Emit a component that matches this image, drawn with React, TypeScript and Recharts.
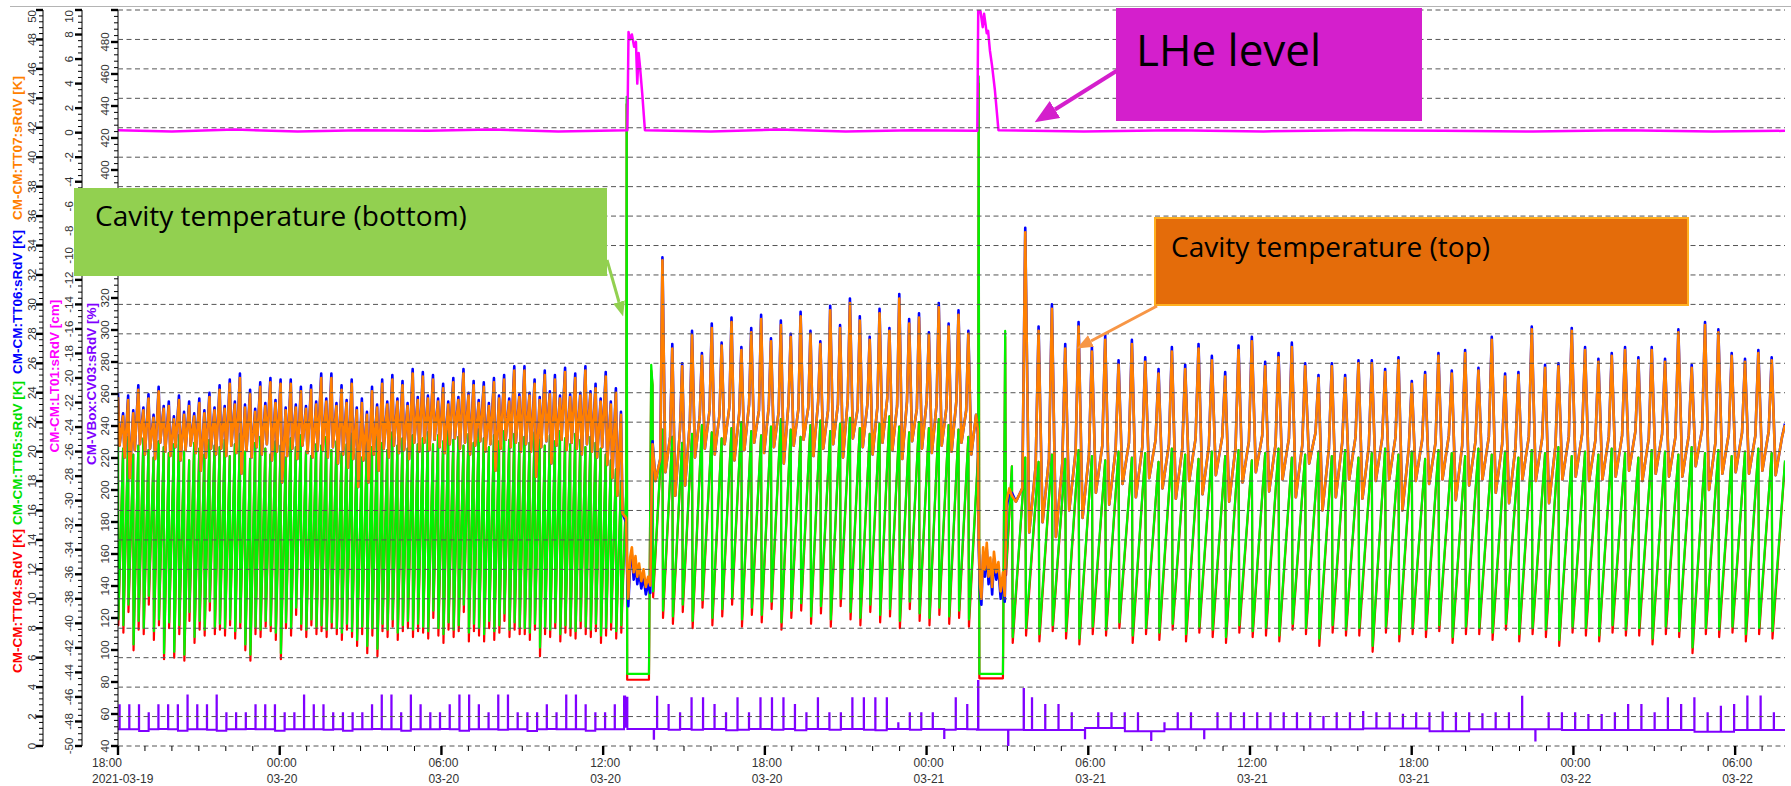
import { LineChart, Line, XAxis, YAxis, ReferenceLine } from 'recharts';

// cryomodule test run, 2021-03-19 18:00 -> 2021-03-22 ~08:00 (x in minutes from start)
const X_END = 3711;

// axis ticks
const kMajor = [0, 2, 4, 6, 8, 10, 12, 14, 16, 18, 20, 22, 24, 26, 28, 30, 32, 34, 36, 38, 40, 42, 44, 46, 48, 50];
const cmMajor = [-50, -48, -46, -44, -42, -40, -38, -36, -34, -32, -30, -28, -26, -24, -22, -20, -18, -16, -14, -12, -10, -8, -6, -4, -2, 0, 2, 4, 6, 8, 10];
const pctMajor = [40, 60, 80, 100, 120, 140, 160, 180, 200, 220, 240, 260, 280, 300, 320, 340, 360, 380, 400, 420, 440, 460, 480, 500];
const timeLabels = ['18:00', '00:00', '06:00', '12:00', '18:00', '00:00', '06:00', '12:00', '18:00', '00:00', '06:00'];
const dateLabels = ['2021-03-19', '03-20', '03-20', '03-20', '03-20', '03-21', '03-21', '03-21', '03-21', '03-22', '03-22'];

// ---- phase 1: before first LHe fill (0 .. 1131 min), 100 cooling cycles ----
const g1Hi = [
  20.6, 20.2, 21.0, 19.8, 20.4, 20.9, 20.1, 19.6, 20.7, 20.3, 19.9, 20.5, 21.1, 20.0, 19.4, 20.6, 20.2, 19.8, 20.8, 20.4,
  20.3, 20.8, 19.7, 20.5, 21.2, 20.0, 19.5, 20.6, 21.0, 20.2, 19.8, 20.7, 20.4, 19.6, 20.9, 20.3, 21.1, 20.0, 19.7, 20.5,
  20.4, 21.0, 20.1, 20.7, 19.9, 20.5, 21.2, 20.2, 19.6, 20.8, 20.3, 21.0, 20.6, 20.1, 21.3, 20.4, 20.9, 20.2, 21.1, 20.5,
  20.9, 21.3, 20.5, 21.1, 20.7, 21.4, 20.8, 21.0, 20.4, 21.2, 20.6, 21.5, 20.9, 20.3, 21.1, 20.7, 21.4, 20.8, 21.2, 20.6,
  21.0, 20.6, 21.3, 20.8, 20.4, 21.1, 20.7, 21.4, 20.9, 20.5, 21.2, 20.8, 20.3, 21.0, 20.6, 20.2, 19.8, 19.4, 18.8, 18.0,
];
const g1Lo = [
  8.6, 8.2, 9.6, 6.9, 8.5, 8.0, 10.2, 7.8, 8.6, 6.3, 8.4, 6.4, 8.2, 6.2, 9.1, 7.4, 8.5, 7.9, 9.8, 8.1,
  8.3, 8.0, 8.6, 7.8, 8.4, 6.9, 6.2, 8.1, 7.9, 8.5, 8.2, 7.7, 6.3, 8.4, 8.0, 9.4, 8.3, 7.9, 8.6, 8.1,
  8.2, 7.9, 8.4, 8.0, 7.7, 8.3, 7.8, 7.2, 8.1, 6.8, 8.0, 6.6, 8.3, 7.9, 8.6, 7.7, 8.2, 8.5, 7.9, 8.3,
  8.1, 7.8, 9.2, 8.0, 7.6, 8.4, 7.9, 8.2, 9.6, 7.7, 8.3, 8.0, 7.6, 8.5, 7.8, 8.2, 9.0, 7.9, 8.4, 8.1,
  8.0, 7.7, 8.3, 6.7, 8.1, 7.9, 8.4, 7.6, 8.2, 8.0, 7.8, 8.5, 8.1, 7.9, 8.3, 7.5, 8.0, 8.4, 7.8, 8.2,
];
const r1Lo = [
  8.2, 7.7, 9.1, 6.5, 7.9, 7.6, 9.6, 7.2, 8.2, 5.9, 8.0, 6.0, 7.6, 5.8, 8.5, 7.0, 7.9, 7.5, 9.2, 7.6,
  7.9, 7.5, 8.2, 7.3, 8.0, 6.5, 5.8, 7.6, 7.4, 8.1, 7.8, 7.2, 5.9, 8.0, 7.5, 8.9, 7.9, 7.4, 8.2, 7.6,
  7.8, 7.4, 8.0, 7.6, 7.2, 7.9, 7.4, 6.8, 7.6, 6.3, 7.5, 6.1, 7.8, 7.4, 8.1, 7.2, 7.8, 8.0, 7.4, 7.8,
  7.7, 7.3, 8.7, 7.5, 7.0, 7.9, 7.4, 7.8, 9.1, 7.1, 7.8, 7.5, 7.1, 8.0, 7.2, 7.7, 8.5, 7.4, 7.9, 7.6,
  7.6, 7.2, 7.9, 6.1, 7.6, 7.4, 8.0, 7.1, 7.7, 7.5, 7.3, 8.0, 7.6, 7.4, 7.8, 7.0, 7.5, 7.9, 7.3, 7.7,
];
const o1Hi = [
  23.7, 22.4, 23.5, 22.6, 24.2, 22.8, 23.6, 22.3, 24.1, 22.9, 23.1, 22.2, 23.5, 22.5, 23.1, 22.4, 23.3, 22.6, 23.7, 22.8,
  24.2, 22.9, 24.6, 23.2, 25.0, 23.0, 23.9, 22.7, 24.4, 23.1, 24.7, 23.3, 24.6, 22.8, 24.6, 23.0, 24.1, 22.9, 24.2, 23.2,
  25.0, 23.4, 25.0, 23.1, 24.2, 23.3, 24.6, 22.8, 23.3, 22.5, 24.1, 23.0, 24.6, 23.2, 24.9, 23.4, 24.5, 23.1, 25.3, 23.5,
  25.1, 23.6, 24.9, 23.4, 24.3, 23.2, 24.7, 23.5, 25.3, 23.8, 24.5, 23.3, 24.4, 23.1, 24.7, 23.6, 24.9, 23.4, 25.5, 23.7,
  25.5, 23.8, 24.6, 23.5, 25.2, 23.9, 24.9, 23.6, 25.4, 23.7, 25.0, 23.8, 25.5, 23.9, 24.3, 23.4, 25.1, 23.2, 24.0, 22.5,
];
const o1Lo = [
  20.4, 19.6, 18.2, 20.1, 20.5, 19.8, 20.2, 19.5, 20.6, 20.0, 19.7, 20.3, 19.4, 20.1, 20.4, 19.9, 18.7, 19.6, 20.2, 19.8,
  20.2, 19.7, 20.4, 19.9, 18.5, 20.1, 19.6, 20.3, 19.8, 20.5, 19.4, 20.0, 17.9, 19.7, 20.2, 19.5, 20.4, 19.9, 19.6, 20.1,
  20.1, 19.6, 20.3, 19.2, 19.8, 18.9, 19.5, 17.6, 19.4, 17.9, 19.8, 18.7, 20.2, 19.6, 20.4, 19.9, 20.1, 19.5, 20.6, 20.0,
  20.6, 20.1, 20.8, 20.3, 19.9, 20.5, 20.9, 20.2, 20.6, 19.8, 20.4, 20.7, 20.0, 20.5, 18.7, 20.2, 20.8, 20.3, 20.6, 20.0,
  20.5, 20.0, 18.3, 20.3, 20.7, 19.2, 20.4, 20.8, 20.1, 20.6, 20.2, 19.8, 20.5, 20.0, 19.6, 20.3, 19.1, 18.2, 17.0, 15.8,
];
const b1Hi = [
  24.0, 22.6, 23.8, 22.8, 24.5, 23.0, 23.9, 22.5, 24.4, 23.1, 23.4, 22.4, 23.8, 22.7, 23.4, 22.6, 23.6, 22.8, 24.0, 23.0,
  24.5, 23.1, 24.9, 23.4, 25.3, 23.2, 24.2, 22.9, 24.7, 23.3, 25.0, 23.5, 24.9, 23.0, 24.9, 23.2, 24.4, 23.1, 24.5, 23.4,
  25.3, 23.6, 25.3, 23.3, 24.5, 23.5, 24.9, 23.0, 23.6, 22.7, 24.4, 23.2, 24.9, 23.4, 25.2, 23.6, 24.8, 23.3, 25.6, 23.7,
  25.4, 23.8, 25.2, 23.6, 24.6, 23.4, 25.0, 23.7, 25.6, 24.0, 24.8, 23.5, 24.7, 23.3, 25.0, 23.8, 25.2, 23.6, 25.8, 23.9,
  25.8, 24.0, 24.9, 23.7, 25.5, 24.1, 25.2, 23.8, 25.7, 23.9, 25.3, 24.0, 25.8, 24.1, 24.6, 23.6, 25.4, 23.4, 24.3, 22.7,
];

// ---- phase 2: between the fills (1190 .. 1915 min), 33 cycles ----
const g2Hi = [24.5, 21.5, 21.0, 20.6, 21.2, 21.8, 21.3, 20.9, 21.6, 22.0, 21.4, 21.1, 21.7, 22.2, 21.5, 21.0, 21.8, 22.1, 21.4, 21.9, 22.3, 21.6, 21.2, 21.9, 22.4, 21.7, 21.3, 22.0, 21.6, 22.2, 21.8, 21.5, 21.0];
const g2Lo = [10.5, 9.2, 8.8, 9.6, 8.5, 9.9, 8.7, 9.3, 10.1, 8.6, 9.4, 8.9, 9.8, 8.4, 9.2, 9.7, 8.8, 9.5, 8.6, 10.0, 9.1, 8.7, 9.6, 8.9, 9.3, 8.5, 9.8, 9.0, 8.7, 9.4, 8.8, 9.2, 8.6];
const r2Lo = [10.1, 8.7, 8.3, 9.1, 8.0, 9.4, 8.2, 8.8, 9.6, 8.1, 8.9, 8.4, 9.3, 7.9, 8.7, 9.2, 8.3, 9.0, 8.1, 9.5, 8.6, 8.2, 9.1, 8.4, 8.8, 8.0, 9.3, 8.5, 8.2, 8.9, 8.3, 8.7, 8.1];
const o2Hi = [20.5, 33.0, 27.0, 25.8, 27.9, 26.5, 28.4, 27.2, 28.8, 26.9, 28.1, 29.0, 27.5, 28.6, 27.8, 29.2, 28.0, 27.3, 29.6, 28.4, 30.1, 28.9, 27.6, 29.4, 28.2, 30.4, 28.7, 29.1, 27.9, 29.8, 28.5, 29.3, 28.0];
const o2Lo = [18.0, 18.6, 17.0, 17.7, 19.6, 20.2, 19.8, 20.5, 19.4, 20.1, 20.6, 19.9, 20.3, 19.2, 20.4, 20.8, 19.7, 20.2, 20.5, 19.6, 20.9, 20.3, 19.8, 20.6, 20.1, 19.5, 20.7, 20.2, 19.9, 20.4, 20.0, 20.6, 19.8];
const o2Mid = [19.5, 21.0, 21.5, 22.0, 22.4, 22.8, 22.5, 23.0, 22.6, 23.2, 22.8, 23.1, 22.7, 23.3, 22.9, 23.0, 23.4, 22.8, 23.2, 23.5, 22.9, 23.3, 23.0, 23.6, 23.1, 23.4, 22.9, 23.5, 23.2, 23.0, 23.4, 22.8, 22.5];
const b2Hi = [20.7, 33.2, 27.3, 26.0, 28.2, 26.7, 28.7, 27.4, 29.1, 27.1, 28.4, 29.3, 27.7, 28.9, 28.0, 29.5, 28.2, 27.5, 29.9, 28.6, 30.4, 29.2, 27.8, 29.7, 28.4, 30.7, 29.0, 29.4, 28.1, 30.1, 28.7, 29.6, 28.2];

// ---- phase 3: after second fill (1990 .. 3711 min), 58 cycles ----
const g3Hi = [
  19.0, 19.6, 19.3, 19.8, 19.5, 20.1, 19.7, 19.4, 20.0, 19.6, 19.9, 19.3, 20.2, 19.8, 19.5, 20.0, 19.7, 20.1, 19.4, 19.9,
  20.2, 19.6, 19.8, 20.0, 19.7, 20.1, 19.6, 19.9, 20.2, 19.8, 20.0, 19.5, 20.1, 19.9, 19.7, 20.2, 19.8, 20.0, 19.6, 20.1,
  19.9, 20.3, 19.7, 20.0, 19.8, 20.2, 19.9, 19.6, 20.1, 20.0, 19.8, 20.3, 19.9, 20.1, 19.7, 20.0, 20.2, 19.9,
];
const g3Lo = [
  7.4, 8.0, 7.6, 8.2, 7.8, 7.3, 8.1, 7.9, 8.4, 7.5, 8.0, 7.7, 8.3, 7.6, 8.1, 7.9, 7.4, 8.2, 7.8, 8.0,
  7.5, 8.3, 8.0, 7.3, 8.2, 7.9, 8.0, 6.8, 8.1, 7.6, 8.0, 7.9, 8.2, 7.4, 8.1, 8.0, 7.7, 8.3, 7.6, 8.0,
  7.9, 7.2, 8.1, 8.0, 7.5, 8.2, 7.9, 8.0, 7.3, 8.1, 7.8, 6.7, 8.0, 7.9, 8.1, 7.6, 8.0, 7.8,
];
const r3Lo = [
  7.0, 7.5, 7.1, 7.8, 7.3, 6.9, 7.6, 7.5, 8.0, 7.0, 7.6, 7.2, 7.9, 7.1, 7.7, 7.4, 7.0, 7.7, 7.4, 7.5,
  7.1, 7.9, 7.6, 6.8, 7.7, 7.5, 7.5, 6.4, 7.7, 7.1, 7.6, 7.4, 7.8, 7.0, 7.6, 7.6, 7.2, 7.9, 7.1, 7.6,
  7.4, 6.8, 7.7, 7.5, 7.1, 7.7, 7.5, 7.5, 6.9, 7.6, 7.4, 6.3, 7.6, 7.4, 7.7, 7.1, 7.6, 7.3,
];
const o3Hi = [
  17.0, 34.9, 28.2, 29.7, 27.0, 28.5, 26.8, 27.6, 25.9, 27.3, 26.1, 25.3, 26.8, 25.6, 27.0, 26.2, 25.1, 26.9, 27.5, 25.8,
  26.4, 27.1, 25.8, 25.0, 25.8, 25.0, 26.0, 26.0, 25.4, 26.2, 24.6, 25.2, 26.5, 25.3, 26.7, 25.5, 27.6, 25.1, 25.2, 28.3,
  25.7, 25.8, 28.2, 26.9, 26.1, 26.5, 26.9, 26.2, 26.9, 26.1, 28.1, 25.7, 28.6, 28.1, 26.5, 26.1, 26.7, 26.2,
];
const o3Lo = [
  16.6, 14.5, 15.2, 14.2, 16.0, 15.5, 17.2, 16.4, 17.8, 16.9, 18.2, 17.5, 16.8, 18.0, 17.1, 18.4, 16.6, 17.9, 18.6, 17.3,
  18.1, 16.9, 19.2, 16.0, 16.9, 18.1, 16.8, 18.0, 18.1, 16.0, 18.0, 17.8, 18.1, 16.7, 17.7, 18.1, 17.2, 16.5, 18.1, 18.0,
  16.5, 18.1, 18.3, 18.0, 18.1, 18.3, 18.7, 18.0, 18.5, 18.3, 18.3, 19.0, 17.4, 18.5, 18.6, 18.5, 18.7, 18.4,
];
const o3Mid = [
  17.5, 19.0, 19.5, 19.2, 20.0, 19.8, 20.4, 20.1, 20.6, 20.3, 20.8, 20.5, 20.2, 20.9, 20.4, 21.0, 20.3, 20.7, 21.1, 20.5,
  20.9, 20.4, 21.3, 20.2, 20.6, 21.0, 20.4, 20.9, 21.0, 20.3, 20.8, 20.6, 21.1, 20.4, 20.7, 21.0, 20.5, 20.3, 21.0, 20.9,
  20.4, 21.0, 21.2, 20.8, 21.0, 21.1, 21.4, 20.9, 21.2, 21.0, 21.1, 21.5, 20.6, 21.2, 21.3, 21.1, 21.4, 21.0,
];
const b3Hi = [
  17.2, 35.2, 28.5, 30.0, 27.3, 28.8, 27.1, 27.9, 26.2, 27.6, 26.4, 25.6, 27.1, 25.9, 27.3, 26.5, 25.4, 27.2, 27.8, 26.1,
  26.7, 27.4, 26.0, 25.2, 26.0, 25.2, 26.2, 26.2, 25.6, 26.4, 24.8, 25.4, 26.7, 25.5, 26.9, 25.7, 27.8, 25.3, 25.4, 28.5,
  25.9, 26.0, 28.4, 27.1, 26.3, 26.7, 27.1, 26.4, 27.1, 26.3, 28.3, 25.9, 28.8, 28.3, 26.7, 26.3, 26.9, 26.4,
];

// ---- LHe fills: [minute, value] ----
const greenFill1 = [[1131.5, 17.5], [1132.4, 44.1], [1133.5, 4.9], [1182, 4.9], [1187, 25.9]];
const redFill1 = [[1131.5, 17.3], [1132.4, 43.6], [1133.5, 4.5], [1182, 4.5], [1187, 25.5]];
const orangeFill1 = [[1131, 15.5], [1132.5, 13.2], [1136, 10.0], [1140, 12.8], [1144, 13.5], [1148, 11.8], [1152, 12.9], [1156, 11.5], [1160, 12.4], [1165, 11.2], [1170, 12.0], [1175, 10.8], [1180, 11.5], [1185, 10.9], [1188, 17.5]];
const blueFill1 = [[1131, 15.2], [1132.5, 12.7], [1136, 9.5], [1140, 12.3], [1144, 13.0], [1148, 11.3], [1152, 12.4], [1156, 11.0], [1160, 11.9], [1165, 10.7], [1170, 11.5], [1175, 10.3], [1180, 11.0], [1185, 10.4], [1188, 17.0]];
const greenFill2 = [[1915, 20.0], [1916, 45.5], [1917.5, 4.9], [1970, 4.9], [1975, 28.2], [1977, 12.0]];
const redFill2 = [[1915, 19.8], [1916, 45.0], [1917.5, 4.6], [1970, 4.6], [1975, 27.8], [1977, 11.6]];
const orangeFill2 = [[1914, 21.5], [1916, 14.0], [1919, 11.0], [1922, 10.0], [1926, 13.5], [1930, 12.0], [1934, 13.8], [1938, 11.5], [1942, 12.8], [1946, 10.8], [1950, 13.2], [1955, 11.8], [1960, 12.5], [1965, 10.5], [1970, 11.8], [1974, 10.2], [1978, 16.6], [1984, 17.5]];
const blueFill2 = [[1914, 21.3], [1916, 13.6], [1919, 10.5], [1922, 9.6], [1926, 13.0], [1930, 11.5], [1934, 13.4], [1938, 11.0], [1942, 12.3], [1946, 10.3], [1950, 12.7], [1955, 11.3], [1960, 12.0], [1965, 10.0], [1970, 11.3], [1974, 9.8], [1978, 16.2], [1984, 17.2]];
const greenEnd = [[3711, 19.4]];
const redEnd = [[3711, 19.3]];
const orangeEnd = [[3711, 21.8]];
const blueEnd = [[3711, 21.9]];

// LT01 helium level [cm]
const lheLevel = [
  [0, 0.2], [120, 0.1], [260, 0.25], [400, 0.1], [540, 0.2], [690, 0.15], [830, 0.25], [980, 0.1], [1134, 0.2],
  [1136.5, 8.2], [1140, 7.6], [1144, 8.0], [1149, 7.0], [1153, 7.4], [1156, 4.0], [1159, 6.5], [1162, 5.4], [1167, 3.2], [1173, 0.2],
  [1320, 0.1], [1470, 0.25], [1620, 0.1], [1770, 0.2], [1913, 0.15],
  [1915, 10.0], [1920, 9.9], [1925, 8.6], [1928, 9.7], [1934, 8.1], [1937, 8.3], [1941, 6.7], [1946, 5.4], [1952, 3.5], [1960, 0.2],
  [2150, 0.1], [2350, 0.2], [2550, 0.1], [2750, 0.2], [2950, 0.15], [3150, 0.1], [3350, 0.2], [3550, 0.1], [3711, 0.15],
];

// CV03 valve opening [%]
const v1Peak = [
  65.5, 65.5, 65.5, 60.5, 65.5, 65.5, 65.5, 71.5, 65.5, 65.5, 71.5, 60.5, 60.5, 60.5, 65.5, 65.5, 65.5, 60.5, 60.5, 71.5,
  65.5, 65.5, 60.5, 60.5, 60.5, 60.5, 65.5, 71.5, 71.5, 60.5, 71.5, 65.5, 60.5, 60.5, 65.5, 71.5, 71.5, 65.5, 60.5, 71.5,
  71.5, 60.5, 60.5, 60.5, 65.5, 60.5, 71.5, 71.5, 65.5, 60.5, 60.5, 65.5,
];
const v1Base = [
  50.4, 50.4, 49.4, 50.4, 50.6, 50.4, 49.6, 50.4, 50.4, 50.2, 49.5, 50.4, 50.4, 50.6, 50.4, 50.4, 49.6, 50.4, 50.4, 50.5,
  50.4, 50.2, 50.4, 49.5, 50.4, 50.4, 50.6, 50.4, 50.4, 49.6, 50.4, 50.4, 50.4, 50.6, 50.4, 49.5, 50.4, 50.4, 50.4, 50.2,
  50.4, 50.4, 49.4, 50.4, 50.6, 50.4, 50.4, 50.4, 49.6, 50.4, 50.4, 50.4,
];
const v2Peak = [70.8, 65.6, 60.4, 69.8, 69.8, 65.6, 60.4, 69.8, 60.4, 69.8, 69.8, 69.8, 65.6, 60.4, 69.8, 60.4, 60.4, 69.8, 69.8, 69.8, 69.8, 54.2, 60.4, 60.4, 60.4, 45.0, 69.8, 65.6];
const v2Base = [50.6, 50.2, 50.6, 50.2, 50.6, 50.6, 49.8, 50.2, 50.6, 50.6, 50.2, 50.6, 49.8, 50.6, 50.6, 50.2, 50.6, 50.6, 50.2, 49.8, 50.6, 50.6, 50.2, 50.6, 50.6, 50.2, 50.6, 50.4];
const v3Peak = [
  69.8, 65.6, 65.6, 60.4, 44.8, 60.4, 60.4, 60.4, 60.4, 43.7, 54.2, 60.4, 60.4, 44.8, 60.4, 60.4, 60.4, 60.4, 60.4, 60.4,
  60.4, 60.4, 58.1, 60.4, 60.4, 61.2, 60.4, 60.4, 59.6, 60.4, 60.4, 61.0, 60.4, 60.4, 59.8, 60.4, 60.4, 70.8, 43.5, 60.4,
  60.4, 60.4, 59.4, 59.4, 60.4, 65.6, 65.6, 60.4, 69.8, 65.6, 69.8, 60.4, 64.6, 65.6, 70.9, 70.9, 60.4,
];
const v3Base = [
  50.0, 50.0, 50.0, 50.0, 51.3, 51.3, 51.3, 49.2, 49.2, 49.2, 50.4, 50.4, 50.4, 50.4, 50.4, 50.4, 50.4, 50.4, 50.4, 50.4,
  50.4, 50.4, 50.4, 50.4, 50.4, 51.0, 51.0, 51.0, 51.0, 51.0, 49.2, 49.2, 49.2, 50.4, 50.4, 50.4, 50.4, 50.4, 50.4, 50.4,
  50.0, 50.0, 50.0, 50.0, 50.0, 50.0, 50.0, 50.0, 50.0, 50.0, 48.9, 48.9, 48.9, 50.0, 50.0, 50.0, 50.0,
];
const valveStart = [[0, 50.4]];
const valveFill1 = [[1125, 50.4], [1126.5, 71.0], [1129, 52.0], [1131, 70.2], [1134, 50.6], [1192, 50.6], [1192.6, 44.5], [1193.4, 50.6]];
const valveFill2 = [[1912, 50.2], [1914.5, 80.6], [1915.5, 50.2], [1981, 50.2], [1981.4, 40.5], [1982.2, 50.2], [2016, 75.6], [2016.8, 50.0]];
const valveEnd = [[3711, 50.0]];

type Pt = { t: number; v: number };

const pairs = (list: number[][]): Pt[] => list.map(([t, v]) => ({ t, v }));

// top of each cycle, its bottom, and (optionally) a slow-recovery point before the next top
function cycles(start: number, end: number, hi: number[], lo: number[], dropAt: number, mid?: number[]): Pt[] {
  const step = (end - start) / hi.length;
  const out: Pt[] = [];
  hi.forEach((h, i) => {
    const t = start + i * step;
    out.push({ t, v: h }, { t: t + dropAt * step, v: lo[i] });
    if (mid) out.push({ t: t + 0.78 * step, v: mid[i] });
  });
  return out;
}

// valve kicks, drawn as a step line
function kicks(start: number, end: number, peak: number[], base: number[]): Pt[] {
  const step = (end - start) / peak.length;
  const out: Pt[] = [];
  peak.forEach((p, i) => {
    const t = start + (i + 0.15) * step;
    out.push({ t, v: p }, { t: t + 0.6, v: base[i] });
  });
  return out;
}

const tt05 = [
  ...cycles(0, 1131, g1Hi, g1Lo, 0.06), ...pairs(greenFill1),
  ...cycles(1190, 1915, g2Hi, g2Lo, 0.06), ...pairs(greenFill2),
  ...cycles(1990, X_END, g3Hi, g3Lo, 0.06), ...pairs(greenEnd),
];
const tt04 = [
  ...cycles(0, 1131, g1Hi, r1Lo, 0.06), ...pairs(redFill1),
  ...cycles(1190, 1915, g2Hi, r2Lo, 0.06), ...pairs(redFill2),
  ...cycles(1990, X_END, g3Hi, r3Lo, 0.06), ...pairs(redEnd),
];
const tt07 = [
  ...cycles(0, 1131, o1Hi, o1Lo, 0.3), ...pairs(orangeFill1),
  ...cycles(1190, 1915, o2Hi, o2Lo, 0.3, o2Mid), ...pairs(orangeFill2),
  ...cycles(1990, X_END, o3Hi, o3Lo, 0.3, o3Mid), ...pairs(orangeEnd),
];
const tt06 = [
  ...cycles(0, 1131, b1Hi, o1Lo, 0.3), ...pairs(blueFill1),
  ...cycles(1190, 1915, b2Hi, o2Lo, 0.3, o2Mid), ...pairs(blueFill2),
  ...cycles(1990, X_END, b3Hi, o3Lo, 0.3, o3Mid), ...pairs(blueEnd),
];
const lt01 = pairs(lheLevel);
const cv03 = [
  ...pairs(valveStart), ...kicks(0, 1124, v1Peak, v1Base), ...pairs(valveFill1),
  ...kicks(1196, 1912, v2Peak, v2Base), ...pairs(valveFill2),
  ...kicks(2030, X_END, v3Peak, v3Base), ...pairs(valveEnd),
];

const withMinor = (majors: number[], parts: number) =>
  majors.flatMap((m, i) =>
    i === majors.length - 1
      ? [m]
      : Array.from({ length: parts }, (_, j) => +(m + ((majors[i + 1] - m) * j) / parts).toFixed(3)),
  );

const hourTicks = Array.from({ length: 62 }, (_, i) => i * 60);

const AXIS_FONT = "'Liberation Sans', Arial, sans-serif";
const NARROW_FONT = "'Liberation Sans Narrow', 'Arial Narrow', 'Liberation Sans', sans-serif";
const NOTE_FONT = "'Open Sans', 'Liberation Sans', sans-serif";

const yTick = (majorStep: number, gap: number, top: number, labels: number[]) => (props: any) => {
  const { x, y, payload } = props;
  const v = payload.value as number;
  const major = Math.abs(v / majorStep - Math.round(v / majorStep)) < 1e-6;
  const show = major && labels.includes(v);
  return (
    <g>
      <line x1={x - (major ? 7 : 4)} x2={x} y1={y} y2={y} stroke="#000" strokeWidth={major ? 2.4 : 1} />
      {show && (
        <text
          transform={`translate(${x - gap},${y}) rotate(-90)`}
          textAnchor={v === top ? 'end' : 'middle'}
          dominantBaseline="central"
          fontSize={11.5}
          fontFamily={AXIS_FONT}
          fill="#333"
        >
          {v}
        </text>
      )}
    </g>
  );
};

const xTick = (props: any) => {
  const { x, y, payload } = props;
  const v = payload.value as number;
  const idx = v / 360;
  const major = Number.isInteger(idx);
  const a = timeLabels[idx] ?? '';
  const b = dateLabels[idx] ?? '';
  const left = x - Math.max(a.length, b.length) * 2.6;
  return (
    <g>
      <line x1={x} x2={x} y1={y} y2={y + (major ? 9 : 5)} stroke="#000" strokeWidth={major ? 2.4 : 1} />
      {major && (
        <text fontSize={12} fontFamily={NARROW_FONT} fill="#333">
          <tspan x={left} y={y + 21}>{a}</tspan>
          <tspan x={left} y={y + 37}>{b}</tspan>
        </text>
      )}
    </g>
  );
};

const C = {
  red: '#ff0000',
  green: '#00f400',
  blue: '#0000ff',
  orange: '#ff8000',
  magenta: '#ff00ff',
  purple: '#8000ff',
};

const titles = [
  { text: 'CM-CM:TT07:sRdV [K]', color: C.orange, x: 17.5, y: 148 },
  { text: 'CM-CM:TT06:sRdV [K]', color: C.blue, x: 17.5, y: 302 },
  { text: 'CM-CM:TT05:sRdV [K]', color: '#00e000', x: 17.5, y: 453 },
  { text: 'CM-CM:TT04:sRdV [K]', color: C.red, x: 17.5, y: 601 },
  { text: 'CM-CM:LT01:sRdV [cm]', color: C.magenta, x: 54, y: 376 },
  { text: 'CM-VBox:CV03:sRdV [%]', color: C.purple, x: 91, y: 384 },
];

// left axes are laid out by id: "y1" sits against the plot, "y3" is outermost
const AX_PCT = 'y1';
const AX_CM = 'y2';
const AX_K = 'y3';

const lineProps = { dataKey: 'v', dot: false, activeDot: false, isAnimationActive: false } as const;

export default function App() {
  return (
    <div style={{ position: 'absolute', left: 0, top: 0, width: 1791, height: 786, background: '#fff' }}>
      <LineChart width={1791} height={786} margin={{ top: 10, right: 6, bottom: 0, left: 0 }}>
        <XAxis
          dataKey="t"
          type="number"
          domain={[0, X_END]}
          allowDataOverflow
          ticks={hourTicks}
          interval={0}
          height={40}
          axisLine={false}
          tickLine={false}
          tickSize={0}
          tickMargin={0}
          tick={xTick}
        />
        <YAxis
          yAxisId={AX_PCT}
          type="number"
          width={36}
          domain={[40, 500]}
          allowDataOverflow
          ticks={withMinor(pctMajor, 5)}
          interval={0}
          tickLine={false}
          tickSize={0}
          tickMargin={0}
          axisLine={{ stroke: '#000' }}
          tick={yTick(20, 13, 500, pctMajor.slice(0, -1))}
        />
        <YAxis
          yAxisId={AX_CM}
          type="number"
          width={39}
          domain={[-50, 10]}
          allowDataOverflow
          ticks={withMinor(cmMajor, 4)}
          interval={0}
          tickLine={false}
          tickSize={0}
          tickMargin={0}
          axisLine={{ stroke: '#000' }}
          tick={yTick(2, 13, 10, cmMajor)}
        />
        <YAxis
          yAxisId={AX_K}
          type="number"
          width={43}
          domain={[0, 50]}
          allowDataOverflow
          ticks={withMinor(kMajor, 5)}
          interval={0}
          tickLine={false}
          tickSize={0}
          tickMargin={0}
          axisLine={{ stroke: '#000' }}
          tick={yTick(2, 11.5, 50, kMajor)}
        />

        <Line {...lineProps} yAxisId={AX_K} data={tt04} stroke={C.red} strokeWidth={2.2} strokeLinejoin="round" />
        <Line {...lineProps} yAxisId={AX_K} data={tt05} stroke={C.green} strokeWidth={2.2} strokeLinejoin="round" />
        <Line {...lineProps} yAxisId={AX_K} data={tt06} stroke={C.blue} strokeWidth={2.6} strokeLinejoin="round" />
        <Line {...lineProps} yAxisId={AX_K} data={tt07} stroke={C.orange} strokeWidth={2.6} strokeLinejoin="round" />
        <Line {...lineProps} yAxisId={AX_CM} data={lt01} stroke={C.magenta} strokeWidth={2.5} strokeLinejoin="round" />
        <Line {...lineProps} yAxisId={AX_PCT} data={cv03} type="stepAfter" stroke={C.purple} strokeWidth={2} />

        {kMajor.map((v) => (
          <ReferenceLine key={v} yAxisId={AX_K} y={v} stroke="#555" strokeDasharray="5 3.5" strokeWidth={1} zIndex={700} />
        ))}
      </LineChart>

      <svg width={1791} height={786} style={{ position: 'absolute', left: 0, top: 0, pointerEvents: 'none' }}>
        <defs>
          <marker id="headM" markerUnits="userSpaceOnUse" markerWidth={24} markerHeight={20} refX={0} refY={10} orient="auto">
            <path d="M0,0 L24,10 L0,20 z" fill="#d41fcc" />
          </marker>
          <marker id="headG" markerUnits="userSpaceOnUse" markerWidth={15} markerHeight={12} refX={0} refY={6} orient="auto">
            <path d="M0,0 L15,6 L0,12 z" fill="#92d050" />
          </marker>
          <marker id="headO" markerUnits="userSpaceOnUse" markerWidth={16} markerHeight={13} refX={0} refY={6.5} orient="auto">
            <path d="M0,0 L16,6.5 L0,13 z" fill="#f79646" />
          </marker>
        </defs>

        <line x1={10} x2={1791} y1={6.5} y2={6.5} stroke="#b4b4b4" strokeWidth={1} />

        {titles.map((t) => (
          <text
            key={t.text}
            transform={`translate(${t.x},${t.y}) rotate(-90)`}
            textAnchor="middle"
            dominantBaseline="central"
            fontSize={13.5}
            fontWeight="bold"
            fontFamily={AXIS_FONT}
            fill={t.color}
          >
            {t.text}
          </text>
        ))}

        <rect x={74} y={188} width={533} height={88} fill="#92d050" />
        <text x={95} y={226} fontSize={28} fontFamily={NOTE_FONT} fill="#000">Cavity temperature (bottom)</text>
        <line x1={607} y1={260} x2={619} y2={302} stroke="#92d050" strokeWidth={3} markerEnd="url(#headG)" />

        <rect x={1155} y={218} width={533} height={87} fill="#e46c0a" stroke="#ffb020" strokeWidth={2} />
        <text x={1171} y={257} fontSize={28} fontFamily={NOTE_FONT} fill="#000">Cavity temperature (top)</text>
        <line x1={1157} y1={306} x2={1091} y2={341} stroke="#f79646" strokeWidth={3} markerEnd="url(#headO)" />

        <rect x={1116} y={8} width={306} height={113} fill="#d41fcc" />
        <text x={1136} y={66} fontSize={44} fontFamily={NOTE_FONT} fill="#000">LHe level</text>
        <line x1={1118} y1={70} x2={1055} y2={109.5} stroke="#d41fcc" strokeWidth={4} markerEnd="url(#headM)" />
      </svg>
    </div>
  );
}
